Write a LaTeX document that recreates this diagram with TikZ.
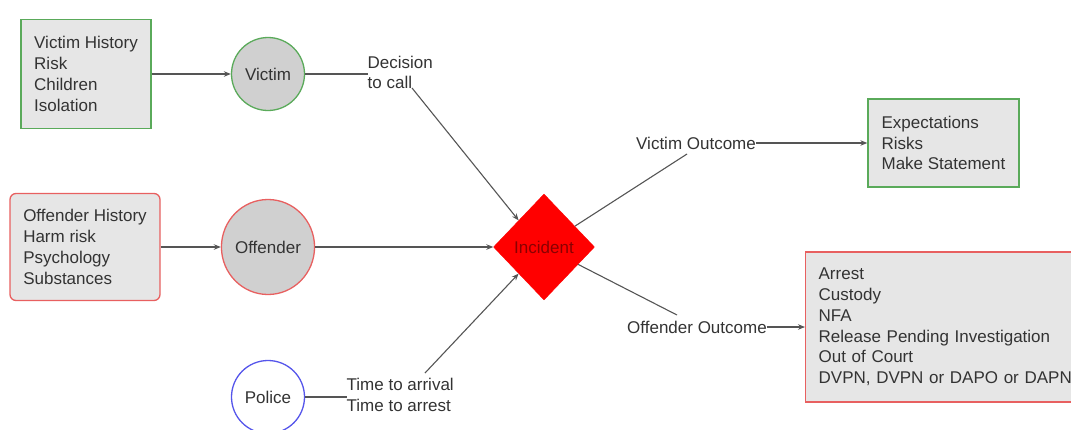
\documentclass[tikz,border=0pt]{standalone}
\usepackage{fontspec}
\setmainfont{Liberation Sans}
\usetikzlibrary{shapes.geometric,arrows.meta}
\definecolor{txt}{HTML}{333333}
\definecolor{lin}{HTML}{555555}
\definecolor{grn}{RGB}{90,170,90}
\definecolor{rdb}{RGB}{232,96,96}
\definecolor{blu}{RGB}{85,85,235}
\definecolor{boxfill}{HTML}{E6E6E6}
\definecolor{circfill}{HTML}{D0D0D0}
\definecolor{inctxt}{HTML}{8A0000}
\begin{document}
\begin{tikzpicture}[x=1pt,y=-1pt,
  every node/.style={font=\fontsize{17}{20.8}\selectfont, text=txt},
  infobox/.style={draw, fill=boxfill, line width=1.3pt, inner sep=0pt, align=left},
  actor/.style={draw, fill=circfill, line width=1.3pt, inner sep=0pt},
  lbl/.style={inner sep=0pt, align=left, anchor=west},
  conn/.style={draw=lin, line width=1.1pt},
  arr/.style={conn, -{Stealth[length=7pt,width=5.5pt]}}
]
\useasboundingbox (0,0) rectangle (1071,429);
\clip (0,0) rectangle (1071,429);

% left boxes
\node[infobox, draw=grn, minimum width=130, minimum height=109] (vbox) at (86,74)
  {Victim History\\Risk\\Children\\Isolation};
\node[infobox, draw=rdb, rounded corners=6pt, minimum width=150, minimum height=107] (obox) at (85,247)
  {Offender History\\Harm risk\\Psychology\\Substances};

% actors
\node[actor, draw=grn, circle, minimum size=73] (victim) at (268,74) {Victim};
\node[actor, draw=rdb, ellipse, minimum width=91, minimum height=95] (offender) at (268,247) {Offender};
\node[actor, draw=blu, fill=white, circle, minimum size=73] (police) at (268,397) {Police};

% incident
\node[diamond, fill=red, draw=red, inner sep=0pt, minimum width=101, minimum height=106, text=inctxt] (inc) at (544,247) {Incident};

% labels
\node[lbl] (dec) at (367.5,72.5) {Decision\\to call};
\node[lbl] (ttime) at (346.5,395) {Time to arrival\\Time to arrest};
\node[lbl] (vo) at (636,143) {Victim Outcome};
\node[lbl] (oo) at (627,327) {Offender Outcome};

% right boxes
\node[infobox, draw=grn, minimum width=151, minimum height=88] (ebox) at (943.5,143)
  {Expectations\\Risks\\Make Statement};
\node[infobox, draw=rdb, anchor=west, minimum height=150, text width=268, inner xsep=13pt] (rbox) at (805,327)
  {Arrest\\Custody\\NFA\\Release Pending Investigation\\Out of Court\\DVPN, DVPN or DAPO or DAPN};

% coordinates for bends
\coordinate (d1) at (412,88);
\coordinate (t1) at (425,373);
\coordinate (v1) at (687,154);
\coordinate (o1) at (677,315);

% connectors
\draw[arr] (vbox.east) -- (victim.west);
\draw[arr] (obox.east) -- (offender.west);
\draw[arr] (offender.east) -- (inc.west);
\draw[conn] (victim.east) -- (dec.west |- victim.east);
\draw[arr] (d1) -- (inc.north west);
\draw[conn] (police.east) -- (ttime.west |- police.east);
\draw[arr] (t1) -- (inc.south west);
\draw[conn] (inc.34) -- (v1);
\draw[arr] (vo.east) -- (ebox.west);
\draw[conn] (inc.-27) -- (o1);
\draw[arr] (oo.east) -- (rbox.west);
\end{tikzpicture}
\end{document}
